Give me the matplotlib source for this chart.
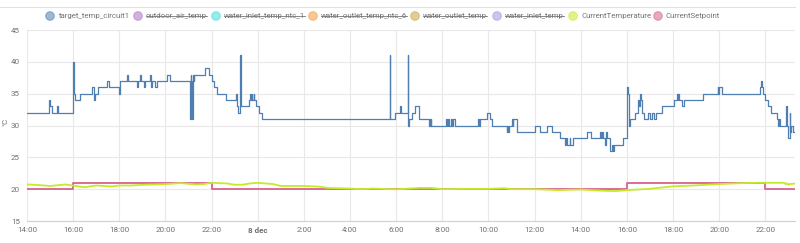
import matplotlib
matplotlib.use('Agg')
import matplotlib.pyplot as plt
from matplotlib.lines import Line2D
from matplotlib.patches import Circle
from matplotlib.transforms import IdentityTransform
from datetime import datetime

plt.rcParams['font.family'] = ['Roboto', 'DejaVu Sans']


# "d HH:MM" -> datetime in December 2023
def ts(s):
    d, hm = s.split()
    h, m = hm.split(':')
    return datetime(2023, 12, int(d), int(h), int(m))


# ---- data ----
x_start = '7 14:00'
x_end = '8 23:17'

target_times = [
    '7 14:00', '7 14:58', '7 15:01', '7 15:05', '7 15:18', '7 15:20',
    '7 16:00', '7 16:02', '7 16:05', '7 16:18', '7 16:50', '7 16:53', '7 16:58', '7 17:04', '7 17:29', '7 17:34',
    '7 18:00', '7 18:01', '7 18:21', '7 18:23', '7 18:46', '7 18:48', '7 18:54', '7 18:56', '7 19:04', '7 19:06',
    '7 19:20', '7 19:22', '7 19:24', '7 19:33', '7 19:39', '7 20:03', '7 20:13',
    '7 21:04', '7 21:06', '7 21:07', '7 21:09', '7 21:11', '7 21:13', '7 21:15', '7 21:44', '7 21:52',
    '7 22:00', '7 22:05', '7 22:13', '7 22:37',
    '7 23:04', '7 23:06', '7 23:08', '7 23:15', '7 23:16', '7 23:37', '7 23:40', '7 23:42', '7 23:44', '7 23:46',
    '7 23:49', '7 23:51', '7 23:55',
    '8 00:03', '8 00:10',
    '8 05:44', '8 05:45', '8 05:57', '8 06:10', '8 06:13', '8 06:30', '8 06:31', '8 06:33', '8 06:41', '8 06:49',
    '8 06:59', '8 07:25', '8 07:27', '8 07:28', '8 07:30', '8 07:31',
    '8 08:09', '8 08:11', '8 08:16', '8 08:18', '8 08:22', '8 08:24', '8 08:28', '8 08:34',
    '8 09:32', '8 09:35', '8 09:38', '8 09:56', '8 10:04', '8 10:09',
    '8 10:47', '8 10:49', '8 10:51', '8 10:54', '8 11:01', '8 11:03', '8 11:05', '8 11:13',
    '8 12:01', '8 12:14', '8 12:32', '8 12:45', '8 13:06', '8 13:19', '8 13:22', '8 13:24', '8 13:31', '8 13:33',
    '8 13:40', '8 14:16', '8 14:26', '8 14:50', '8 14:52', '8 14:55', '8 14:58', '8 15:03', '8 15:06', '8 15:08',
    '8 15:16', '8 15:20', '8 15:23', '8 15:26', '8 15:49',
    '8 16:01', '8 16:03', '8 16:06', '8 16:09', '8 16:12', '8 16:20', '8 16:28', '8 16:31', '8 16:33', '8 16:36',
    '8 16:38', '8 16:44', '8 16:55', '8 17:00', '8 17:05', '8 17:10', '8 17:15', '8 17:31', '8 17:36',
    '8 18:02', '8 18:10', '8 18:12', '8 18:14', '8 18:16', '8 18:18', '8 18:23', '8 18:28',
    '8 19:18', '8 19:56', '8 19:58', '8 20:00', '8 20:07',
    '8 21:46', '8 21:48', '8 21:51', '8 21:53', '8 21:59', '8 22:06', '8 22:14', '8 22:30', '8 22:32',
    '8 22:35', '8 22:37', '8 22:45', '8 22:53', '8 22:55', '8 22:58', '8 23:03', '8 23:05', '8 23:07', '8 23:11',
]
target_values = [
    32, 34, 33, 32, 33, 32,
    40, 35, 34, 35, 36, 34, 35, 36, 37, 36,
    35, 37, 38, 37, 36, 37, 38, 37, 36, 37,
    38, 36, 37, 36, 37, 38, 37,
    31, 38, 37, 31, 38, 37, 38, 39, 38,
    37, 36, 35, 34,
    35, 33, 32, 41, 33, 34, 35, 34, 35, 34,
    35, 34, 33,
    32, 31,
    41, 31, 32, 33, 32, 41, 30, 31, 32, 33,
    31, 30, 31, 30, 31, 30,
    31, 30, 31, 30, 31, 30, 31, 30,
    31, 30, 31, 32, 31, 30,
    29, 30, 29, 30, 31, 30, 31, 29,
    30, 29, 30, 29, 28, 27, 28, 27, 28, 27,
    28, 29, 28, 29, 28, 29, 28, 27, 29, 28,
    26, 27, 26, 27, 28,
    36, 35, 30, 31, 31, 32, 34, 33, 35, 34,
    32, 31, 32, 31, 32, 31, 32, 33, 33,
    34, 35, 34, 35, 34, 34, 33, 34,
    35, 36, 35, 36, 35,
    36, 37, 36, 35, 34, 33, 32, 31, 30,
    31, 30, 30, 33, 30, 28, 32, 29, 30, 29,
]

current_times = [
    '7 14:00', '7 14:30', '7 15:00', '7 15:40', '7 16:00', '7 16:30', '7 17:00', '7 17:40', '7 18:00', '7 18:30',
    '7 19:00', '7 20:00', '7 20:40', '7 21:20', '7 21:40', '7 22:00', '7 22:40', '7 23:00', '7 23:20', '7 23:40',
    '8 00:00', '8 00:40', '8 01:00', '8 02:00', '8 02:40', '8 03:00', '8 04:00', '8 04:30', '8 05:00', '8 06:00',
    '8 07:00', '8 07:30', '8 08:00', '8 09:00', '8 10:00', '8 10:40', '8 11:00', '8 12:00', '8 13:00', '8 14:00',
    '8 15:00', '8 15:30', '8 16:00', '8 17:00', '8 18:00', '8 19:00', '8 20:00', '8 21:00', '8 21:40', '8 22:30',
    '8 22:50', '8 22:53', '8 22:57', '8 23:00', '8 23:04', '8 23:08', '8 23:17',
]
current_values = [
    20.75, 20.65, 20.5, 20.74, 20.55, 20.3, 20.58, 20.42, 20.58, 20.58,
    20.68, 20.79, 20.95, 20.74, 20.8, 21.0, 20.9, 20.7, 20.7, 20.9,
    21.0, 20.8, 20.5, 20.5, 20.4, 20.2, 20.1, 20.0, 20.1, 19.97,
    20.2, 20.2, 20.0, 20.05, 20.05, 20.15, 20.0, 20.0, 19.85, 19.95,
    19.75, 19.7, 19.85, 20.05, 20.45, 20.6, 20.8, 20.95, 21.0, 21.0,
    21.0, 20.75, 20.9, 20.7, 20.85, 20.8, 20.9,
]

setpoint_times = ['7 14:00', '7 16:00', '7 22:00', '8 16:00', '8 22:00']
setpoint_values = [20, 21, 20, 21, 20]

y_ticks = [15, 20, 25, 30, 35, 40, 45]
x_tick_times = ['7 14:00', '7 16:00', '7 18:00', '7 20:00', '7 22:00', '8 00:00', '8 02:00', '8 04:00',
                '8 06:00', '8 08:00', '8 10:00', '8 12:00', '8 14:00', '8 16:00', '8 18:00', '8 20:00', '8 22:00']

legend_labels = ['target_temp_circuit1', 'outdoor_air_temp', 'water_inlet_temp_ntc_1', 'water_outlet_temp_ntc_6',
                 'water_outlet_temp', 'water_inlet_temp', 'CurrentTemperature', 'CurrentSetpoint']
legend_hidden = [False, True, True, True, True, True, False, False]
legend_colors = ['#4f7fb0', '#b070c8', '#3ddede', '#f59a3c', '#c9a440', '#9a9ae0', '#c6ea2a', '#d9628a']
# pixel x of each legend circle
legend_x = [50, 138, 216, 313, 415, 497, 573, 658]


# ---- figure ----
fig = plt.figure(figsize=(8, 2.43), dpi=100)
ax = fig.add_axes([27 / 800, 1 - 221 / 243, 768 / 800, 191 / 243])

t0, t1 = ts(x_start), ts(x_end)

# step lines are extended to the right edge
tx = [ts(s) for s in target_times] + [t1]
ax.step(tx, target_values + [target_values[-1]], where='post', color=legend_colors[0], lw=0.9, zorder=3)

sx = [ts(s) for s in setpoint_times] + [t1]
ax.step(sx, setpoint_values + [setpoint_values[-1]], where='post', color=legend_colors[7], lw=1.3, zorder=3)

ax.plot([ts(s) for s in current_times], current_values, color=legend_colors[6], lw=1.3, zorder=4)

ax.set_xlim(t0, t1)
ax.set_ylim(15, 45)
ax.set_yticks(y_ticks)
ax.set_yticklabels([str(v) for v in y_ticks])
xt = [ts(s) for s in x_tick_times]
ax.set_xticks(xt)
ax.set_xticklabels(['8 dec' if t.hour == 0 else '{}:00'.format(t.hour) for t in xt])
for lab, t in zip(ax.get_xticklabels(), xt):
    if t.hour == 0:
        lab.set_fontweight('bold')

ax.grid(True, color='#e8e8e8', lw=0.8)
ax.set_axisbelow(True)
for side in ['top', 'right', 'left']:
    ax.spines[side].set_visible(False)
ax.spines['bottom'].set_color('#d0d0d0')
ax.tick_params(length=0, labelsize=5.8, labelcolor='#707070')
ax.tick_params(axis='y', pad=5)
ax.tick_params(axis='x', pad=4)

fig.text(5, 243 - 122, '°C', transform=IdentityTransform(), rotation=90,
         ha='center', va='center', fontsize=5.8, color='#707070')

# top border of the card
fig.add_artist(Line2D([0, 795], [236, 236], transform=IdentityTransform(), color='#e2e2e2', lw=0.8))

# ---- hand made legend (hidden series are struck through) ----
renderer = fig.canvas.get_renderer()
ly = 243 - 16
for cx, label, hidden, col in zip(legend_x, legend_labels, legend_hidden, legend_colors):
    fig.add_artist(Circle((cx, ly), 4.3, transform=IdentityTransform(),
                          facecolor=col, edgecolor=col, alpha=0.55, lw=0.8))
    t = fig.text(cx + 8, ly, label, transform=IdentityTransform(), ha='left', va='center',
                 fontsize=5.7, color='#757575')
    if hidden:
        bb = t.get_window_extent(renderer)
        fig.add_artist(Line2D([bb.x0, bb.x1], [ly - 0.3, ly - 0.3], transform=IdentityTransform(),
                              color='#757575', lw=0.6))

plt.savefig('out.png', dpi=100)
